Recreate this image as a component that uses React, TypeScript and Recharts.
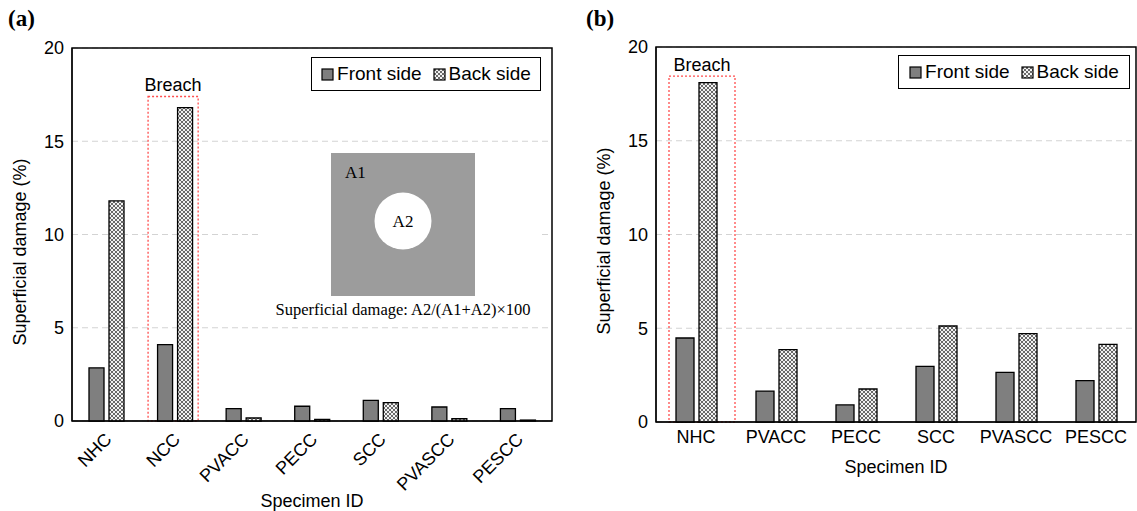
import React from 'react'
import {
  BarChart, Bar, XAxis, YAxis, CartesianGrid, Legend, ReferenceArea,
} from 'recharts'

// panel (a)
const specimensA = ['NHC', 'NCC', 'PVACC', 'PECC', 'SCC', 'PVASCC', 'PESCC']
const frontA = [2.85, 4.1, 0.66, 0.79, 1.11, 0.75, 0.66]
const backA = [11.8, 16.8, 0.16, 0.09, 0.98, 0.12, 0.05]

// panel (b)
const specimensB = ['NHC', 'PVACC', 'PECC', 'SCC', 'PVASCC', 'PESCC']
const frontB = [4.48, 1.65, 0.91, 2.97, 2.65, 2.21]
const backB = [18.1, 3.86, 1.76, 5.12, 4.71, 4.14]

const yTicks = [0, 5, 10, 15, 20]
const breachA = { cat: 'NCC', top: 17.4 }
const breachB = { cat: 'NHC', top: 18.45 }

const SANS = '"Liberation Sans", Arial, sans-serif'
const SERIF = '"Liberation Serif", "Times New Roman", serif'
const FRONT = '#7f7f7f'

const dataA = specimensA.map((name, i) => ({ name, front: frontA[i], back: backA[i] }))
const dataB = specimensB.map((name, i) => ({ name, front: frontB[i], back: backB[i] }))

function HatchDefs({ id }: { id: string }) {
  return (
    <defs>
      <pattern id={id} width="4" height="4" patternUnits="userSpaceOnUse">
        <rect width="4" height="4" fill="#f2f2f2" />
        <path d="M0,0 L4,4 M4,0 L0,4" stroke="#5a5a5a" strokeWidth="0.9" />
      </pattern>
    </defs>
  )
}

function LegendBox({ hatch }: { hatch: string }) {
  const swatch = (fill: string) => (
    <svg width="13" height="13" style={{ marginRight: 3 }}>
      <rect x="1" y="1" width="11" height="11" fill={fill} stroke="#000" strokeWidth="1.2" />
    </svg>
  )
  return (
    <div style={{
      border: '1.5px solid #000', background: '#fff', display: 'flex', alignItems: 'center',
      justifyContent: 'center', height: 34, width: '100%', boxSizing: 'border-box',
      fontFamily: SANS, fontSize: 19, color: '#000', whiteSpace: 'nowrap',
    }}>
      {swatch(FRONT)}<span style={{ marginRight: 11 }}>Front side</span>
      {swatch(`url(#${hatch})`)}<span>Back side</span>
    </div>
  )
}

function breachShape(leftInset: number, rightInset: number) {
  return (p: any) => {
    const x = p.x + leftInset
    const w = p.width - leftInset - rightInset
    return (
      <g>
        <rect x={x} y={p.y} width={w} height={p.height} fill="none"
          stroke="#ff4d4d" strokeWidth={1.3} strokeDasharray="2 2" />
        <text x={x + w / 2} y={p.y - 5} textAnchor="middle" fontFamily={SANS} fontSize={18} fill="#000">
          Breach
        </text>
      </g>
    )
  }
}

function RotatedTick(p: any) {
  const { x, y, payload } = p
  const tx = x + 2
  const ty = y + 7
  return (
    <text x={tx} y={ty} transform={`rotate(-45, ${tx}, ${ty})`} textAnchor="end"
      dy="0.35em" fontFamily={SANS} fontSize={18} fill="#000">
      {payload.value}
    </text>
  )
}

function yTitle(cx: number, cy: number) {
  return () => (
    <text x={cx} y={cy} transform={`rotate(-90, ${cx}, ${cy})`} textAnchor="middle"
      dominantBaseline="central" fontFamily={SANS} fontSize={18} fill="#000">
      Superficial damage (%)
    </text>
  )
}

const tickStyle = { fontFamily: SANS, fontSize: 18, fill: '#000' }

// plot frame: box round the whole plot area
function frame() {
  return (
    <ReferenceArea y1={0} y2={20} fill="none" fillOpacity={0} stroke="#000" strokeWidth={1.5}
      strokeOpacity={1} ifOverflow="visible" />
  )
}

function PanelA() {
  return (
    <BarChart width={570} height={511} data={dataA} barSize={15} barGap={5}
      margin={{ top: 48, right: 18, left: 0, bottom: 0 }}>
      <HatchDefs id="hatchA" />
      <CartesianGrid vertical={false} stroke="#d3d3d3" strokeDasharray="6 4" />
      <XAxis dataKey="name" height={90} tickLine={false} interval={0} stroke="#000"
        tick={<RotatedTick />}
        label={{ value: 'Specimen ID', position: 'insideBottom', offset: 4, style: tickStyle }} />
      <YAxis width={72} domain={[0, 20]} ticks={yTicks} tickLine={false} stroke="#000"
        tick={tickStyle} label={yTitle(20, 252)} />
      <Legend layout="vertical" align="center" verticalAlign="middle"
        wrapperStyle={{ top: 57, left: 311, width: 230 }}
        content={() => <LegendBox hatch="hatchA" />} />
      <Bar dataKey="front" name="Front side" fill={FRONT} stroke="#000" strokeWidth={1.3} isAnimationActive={false} />
      <Bar dataKey="back" name="Back side" fill="url(#hatchA)" stroke="#000" strokeWidth={1.3} isAnimationActive={false} />
      <ReferenceArea x1={breachA.cat} x2={breachA.cat} y1={0} y2={breachA.top}
        shape={breachShape(7.5, 11)} ifOverflow="visible" />
      {frame()}
    </BarChart>
  )
}

function PanelB() {
  return (
    <BarChart width={557} height={511} data={dataB} barSize={18} barGap={5}
      margin={{ top: 47, right: 1, left: 0, bottom: 0 }}>
      <HatchDefs id="hatchB" />
      <CartesianGrid vertical={false} stroke="#d3d3d3" strokeDasharray="6 4" />
      <XAxis dataKey="name" height={89} tickLine={false} interval={0} stroke="#000"
        tick={tickStyle}
        label={{ value: 'Specimen ID', position: 'insideBottom', offset: 38, style: tickStyle }} />
      <YAxis width={76} domain={[0, 20]} ticks={yTicks} tickLine={false} stroke="#000"
        tick={tickStyle} label={yTitle(24, 241)} />
      <Legend layout="vertical" align="center" verticalAlign="middle"
        wrapperStyle={{ top: 55, left: 318, width: 232 }}
        content={() => <LegendBox hatch="hatchB" />} />
      <Bar dataKey="front" name="Front side" fill={FRONT} stroke="#000" strokeWidth={1.3} isAnimationActive={false} />
      <Bar dataKey="back" name="Back side" fill="url(#hatchB)" stroke="#000" strokeWidth={1.3} isAnimationActive={false} />
      <ReferenceArea x1={breachB.cat} x2={breachB.cat} y1={0} y2={breachB.top}
        shape={breachShape(13, 1)} ifOverflow="visible" />
      {frame()}
    </BarChart>
  )
}

// the definition sketch drawn inside panel (a)
function InsetSketch() {
  return (
    <svg width={570} height={511} style={{ position: 'absolute', left: 0, top: 0, pointerEvents: 'none' }}>
      <rect x={262} y={146} width={280} height={176} fill="#fff" />
      <rect x={331} y={153} width={144} height={143} fill="#9c9c9c" />
      <circle cx={403} cy={221} r={28.5} fill="#fff" />
      <text x={345} y={178} fontFamily={SERIF} fontSize={17} fill="#000">A1</text>
      <text x={403} y={221} textAnchor="middle" dominantBaseline="central" fontFamily={SERIF} fontSize={17} fill="#000">A2</text>
      <text x={403} y={315} textAnchor="middle" fontFamily={SERIF} fontSize={16.5} fill="#000">
        Superficial damage: A2/(A1+A2)×100
      </text>
    </svg>
  )
}

export default function App() {
  return (
    <div style={{ position: 'absolute', left: 0, top: 0, width: 1137, height: 511, background: '#fff', overflow: 'hidden' }}>
      <div style={{ position: 'absolute', left: 0, top: 0 }}>
        <PanelA />
        <InsetSketch />
      </div>
      <div style={{ position: 'absolute', left: 580, top: 0 }}>
        <PanelB />
      </div>
      <div style={{ position: 'absolute', left: 8, top: 6, fontFamily: SERIF, fontWeight: 'bold', fontSize: 23 }}>(a)</div>
      <div style={{ position: 'absolute', left: 586, top: 6, fontFamily: SERIF, fontWeight: 'bold', fontSize: 23 }}>(b)</div>
    </div>
  )
}
